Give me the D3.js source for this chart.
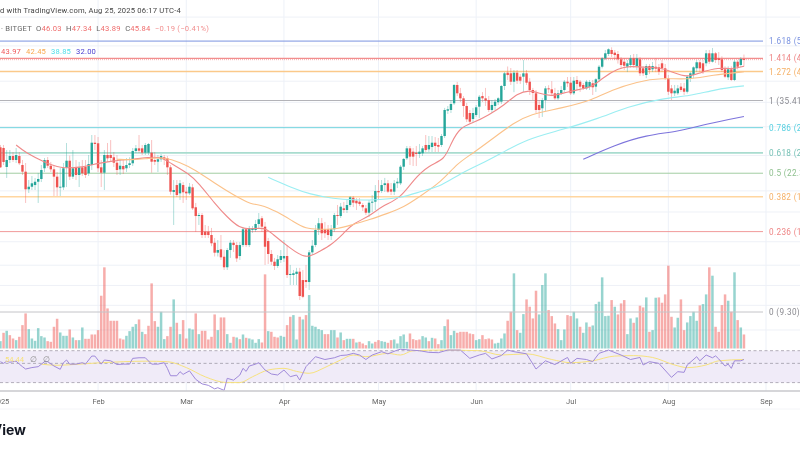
<!DOCTYPE html>
<html>
<head>
<meta charset="utf-8">
<script src="https://cdn.jsdelivr.net/npm/d3@7"></script>
<style>
  html, body { margin: 0; padding: 0; background: #fff; overflow: hidden; }
  svg { display: block; font-family: Roboto, "Noto Sans", sans-serif; filter: blur(0.4px); }
</style>
</head>
<body>
<svg id="chart" width="800" height="450"></svg>
<script>
// daily candles from Jan 1 2025
const firstDay = Date.UTC(2025, 0, 1);

const opens = [
  26.34,26.23,23.26,24.31,24.93,24.31,24.93,23.55,22.58,20.20,
  20.53,20.75,21.19,21.56,23.07,24.31,23.45,22.92,21.88,20.45,
  20.45,23.15,24.20,21.88,23.21,22.11,23.21,23.30,22.35,23.55,
  27.12,27.02,23.21,22.43,25.09,25.09,24.73,23.90,22.92,23.40,
  23.07,23.55,23.81,25.73,26.17,26.17,25.46,25.46,25.46,24.31,
  24.05,24.42,24.73,24.57,23.21,19.86,20.75,19.69,20.75,19.90,
  19.69,20.45,18.03,17.06,17.17,15.45,15.45,15.13,14.41,13.53,
  13.82,13.19,12.34,13.76,14.41,14.20,13.25,14.20,15.69,14.20,
  15.62,15.62,16.22,16.82,15.95,14.57,13.42,12.78,12.44,12.92,
  13.05,13.25,11.75,11.75,11.83,12.00,11.38,11.38,11.24,13.56,
  14.20,15.62,16.30,15.69,15.69,15.03,15.69,17.17,17.06,17.91,
  17.72,18.29,19.15,18.80,18.68,18.29,17.91,17.42,18.56,18.68,
  19.98,19.98,20.75,20.98,20.20,19.90,20.98,20.98,23.30,24.57,
  26.17,25.62,25.46,25.25,25.36,26.73,26.00,26.39,27.12,26.73,
  26.73,28.29,33.20,33.35,34.79,39.06,37.06,35.90,34.20,32.72,
  31.50,32.31,34.05,36.42,35.90,35.52,33.35,34.20,35.02,35.15,
  38.81,42.21,42.05,39.88,42.21,41.16,41.16,42.05,39.88,37.84,
  37.06,34.42,33.71,35.52,38.23,38.00,37.06,35.90,37.06,37.84,
  39.88,39.63,37.06,40.31,39.88,39.06,38.23,38.57,39.48,38.65,
  40.49,43.84,46.23,47.51,48.73,47.91,47.51,45.94,45.25,43.84,
  44.32,46.23,44.03,45.94,43.40,41.60,44.03,43.13,43.84,43.67,
  44.80,43.40,40.74,38.23,37.06,37.06,38.65,38.23,37.43,40.74,
  41.60,43.40,45.09,44.80,44.80,47.72,45.25,47.72,46.23,45.94,
  43.13,41.00,43.13,40.31,45.25,44.32,46.03
];
const closes = [
  23.21,24.01,24.31,24.93,24.31,25.09,23.81,22.58,20.20,20.53,
  20.98,21.19,21.56,22.82,24.31,23.45,22.92,21.88,20.45,20.53,
  23.07,24.20,21.88,23.07,22.11,23.21,22.35,22.11,23.70,27.12,
  26.90,23.07,22.43,25.09,24.57,24.62,23.90,22.82,23.45,22.92,
  23.55,23.81,25.73,26.17,25.78,25.46,26.73,26.90,24.05,24.05,
  24.42,24.93,24.42,23.21,19.90,20.11,19.48,20.98,19.82,19.69,
  20.53,17.91,17.06,17.17,15.13,15.13,15.13,14.36,13.53,13.76,
  13.14,12.34,13.76,14.41,14.20,13.05,14.20,15.69,14.20,15.79,
  15.79,16.22,16.71,15.95,14.05,13.42,12.78,12.44,12.98,13.25,
  13.25,11.75,11.83,11.88,12.00,10.29,10.24,11.24,13.56,14.14,
  15.62,16.30,15.30,15.30,15.13,15.69,17.17,17.06,18.10,17.72,
  18.29,19.20,18.56,18.49,18.41,18.03,17.42,18.56,18.68,19.98,
  19.82,20.75,20.98,19.90,19.90,20.98,21.19,23.30,24.47,26.17,
  24.83,24.83,25.25,25.62,26.17,25.89,26.73,27.12,26.56,26.44,
  28.29,33.35,33.50,34.64,39.06,37.06,35.90,34.20,31.44,30.97,
  32.72,33.92,36.26,35.90,35.37,33.35,34.42,35.15,35.90,38.81,
  42.05,41.60,39.88,42.21,40.13,40.13,42.05,39.63,37.84,37.13,
  33.35,33.35,35.52,38.23,38.00,37.06,35.90,37.06,37.84,39.88,
  39.48,37.06,40.13,39.30,38.65,38.23,39.88,39.80,38.49,40.49,
  43.84,46.23,47.72,48.95,47.51,47.21,45.94,44.32,44.12,44.80,
  46.23,44.32,46.23,42.05,42.05,44.03,42.94,44.03,43.30,42.48,
  43.40,40.74,37.43,37.06,37.67,38.23,37.84,37.43,41.16,42.05,
  43.67,45.09,43.40,42.48,47.72,45.25,47.72,45.74,45.74,42.94,
  41.16,43.13,40.31,45.25,43.84,46.03,45.84
];
const highs = [
  26.73,26.73,25.89,25.89,25.57,26.23,25.57,24.31,23.85,21.42,
  21.97,21.70,22.40,23.55,24.62,24.77,24.01,23.40,22.53,23.11,
  23.85,27.07,25.00,25.89,24.31,24.01,24.31,24.31,25.09,28.47,
  28.47,28.11,24.31,25.89,27.07,27.58,25.57,25.09,24.31,24.31,
  24.62,24.73,26.23,26.73,28.47,26.73,27.07,27.07,27.58,25.57,
  25.09,25.25,25.09,24.93,23.55,21.42,21.42,21.42,21.15,20.49,
  21.02,20.88,18.53,17.39,17.39,16.12,16.02,15.82,14.85,14.66,
  15.13,13.76,13.94,14.66,14.66,14.48,14.48,15.92,15.82,16.02,
  16.02,16.64,17.39,17.06,16.43,14.85,13.76,13.09,13.33,13.76,
  14.66,14.20,12.52,12.13,12.29,12.29,12.13,12.52,13.76,14.66,
  16.12,16.85,16.85,16.43,16.12,16.12,17.39,18.29,18.53,18.65,
  18.88,19.36,19.36,19.12,19.12,18.53,18.29,18.88,19.48,20.75,
  21.42,21.42,21.70,21.42,21.02,21.42,21.70,23.55,24.62,26.56,
  26.56,26.23,26.56,26.90,26.56,28.47,28.29,28.29,28.11,27.94,
  28.65,33.79,34.20,35.52,39.30,39.83,38.34,36.42,34.86,33.35,
  33.79,34.42,36.66,37.34,38.34,36.42,35.52,35.76,36.16,39.06,
  42.38,43.90,43.48,42.94,42.94,41.86,45.74,42.94,40.78,38.34,
  37.84,35.52,35.99,38.79,39.00,40.03,38.34,37.84,38.79,40.31,
  41.08,41.08,41.08,41.34,40.31,39.55,40.31,40.31,40.31,40.78,
  44.32,46.60,48.73,49.24,49.56,48.73,48.42,46.60,46.23,45.74,
  47.21,47.51,47.51,46.60,43.96,44.60,44.60,45.17,46.20,44.60,
  45.74,44.60,41.60,39.06,39.06,39.06,39.55,39.55,41.60,42.38,
  43.96,45.74,45.74,45.74,48.73,48.73,49.35,48.11,48.11,46.82,
  43.96,43.96,43.96,45.74,45.74,46.60,47.34
];
const lows = [
  23.11,23.55,21.70,23.85,24.01,23.85,23.55,22.11,18.53,19.73,
  20.11,20.11,18.53,21.15,22.53,23.11,22.53,19.36,19.36,19.36,
  20.11,20.49,21.42,21.56,21.42,20.49,21.97,21.70,21.97,22.82,
  25.89,22.53,20.49,20.11,24.01,24.01,23.26,22.11,22.11,22.25,
  22.53,23.11,23.40,25.41,25.41,25.09,25.09,25.09,22.43,23.55,
  22.53,24.01,23.55,22.11,19.53,16.12,19.24,18.88,18.53,18.88,
  19.48,17.72,15.43,16.12,14.85,14.85,14.85,14.10,13.21,13.21,
  12.92,12.13,12.13,13.09,13.59,12.76,12.92,14.02,14.02,14.02,
  15.33,15.43,15.82,15.43,12.52,12.60,12.52,12.13,12.29,12.68,
  12.76,11.53,11.03,11.03,11.03,10.03,10.15,10.83,10.69,13.33,
  14.02,15.13,14.66,14.85,14.66,14.66,15.43,16.12,16.85,17.39,
  17.39,18.05,18.05,17.72,18.17,17.61,17.17,16.95,17.50,17.72,
  18.88,19.73,19.86,19.73,19.48,19.48,20.36,20.75,22.82,24.31,
  23.55,23.40,23.40,24.62,24.93,25.57,25.57,25.57,25.57,25.57,
  26.39,27.94,32.52,32.72,34.42,36.42,35.07,31.92,30.90,30.58,
  30.72,31.92,31.71,35.07,34.20,32.93,32.72,33.35,34.42,34.64,
  37.84,40.31,39.06,37.32,39.32,39.32,37.39,39.06,36.66,35.52,
  32.72,31.70,31.92,33.15,37.13,36.42,35.52,35.52,36.66,37.39,
  38.57,36.66,36.66,37.84,37.39,37.84,37.84,37.84,36.66,37.39,
  39.80,43.38,45.74,46.90,46.60,45.74,44.72,43.38,42.94,42.38,
  43.56,43.56,42.94,41.34,41.34,40.78,41.86,42.38,42.38,41.60,
  42.38,40.31,36.66,35.52,36.42,36.66,37.39,36.66,37.00,39.80,
  40.78,42.38,42.38,41.86,43.96,44.60,45.00,44.90,44.32,42.38,
  40.78,40.31,40.03,40.03,43.09,43.75,43.89
];
const volumes = [
  22,47,53,40,30,25,35,70,105,58,30,23,61,37,33,22,20,65,89,48,
  38,38,57,33,25,25,63,29,29,42,42,55,158,243,120,83,83,83,30,27,
  38,52,65,73,87,50,43,68,195,82,65,110,28,37,65,147,77,43,85,30,
  60,57,105,43,53,53,27,35,102,55,93,93,43,17,35,33,28,42,32,30,
  27,17,28,18,222,52,50,35,33,38,35,70,95,100,27,95,87,100,160,68,
  65,58,55,43,43,55,55,33,48,25,29,29,29,18,20,15,10,22,15,20,
  25,22,20,17,25,27,15,37,42,20,45,28,25,27,37,33,22,32,30,13,
  25,67,87,40,53,47,50,50,50,45,43,25,28,40,28,30,27,15,17,30,
  45,83,110,225,55,47,103,147,125,90,173,102,190,225,115,97,75,58,25,57,
  100,97,110,90,65,47,78,65,69,133,140,213,97,98,145,125,102,135,145,43,
  90,77,93,128,123,153,50,55,152,153,137,162,248,95,63,92,147,55,78,97,
  110,83,129,133,162,243,218,65,50,130,162,143,110,228,85,63,42
];
// days whose volume bar is drawn teal in the picture
const tealVolumeDays = [0,2,5,9,10,11,12,13,14,19,20,21,23,25,26,40,41,42,43,45,50,51,52,55,57,60,61,63,69,72,73,75,77,79,80,81,82,85,89,90,93,94,96,98,99,100,101,102,105,106,108,110,111,113,117,118,121,122,125,126,127,128,129,134,135,137,140,141,143,144,151,152,157,158,159,160,163,165,166,171,172,173,177,178,179,182,183,185,186,188,189,190,191,192,193,195,199,200,202,205,207,208,214,215,218,219,220,221,223,224,226,231,233,235];

// moving averages, legend order 20 / 50 / 100 / 200
const ema20Days = [5,8,14,19,25,31,36,42,47,51,54,60,63,68,72,76,79,84,86,92,97,101,105,109,112,117,121,127,131,136,141,143,146,150,155,160,164,168,171,175,180,184,188,191,196,200,204,209,213,218,222,228,232,236];
const ema20Values = [26.73,25.46,23.97,23.07,23.15,23.81,24.20,24.42,24.73,24.83,23.81,22.25,20.98,18.49,16.93,15.79,15.69,15.89,15.30,13.91,12.98,13.62,14.20,15.30,16.30,16.99,18.17,19.08,21.42,23.55,24.31,27.07,29.95,30.72,32.31,34.42,37.06,37.84,37.06,36.26,37.43,38.00,38.65,40.74,43.40,44.03,43.67,43.67,42.48,40.89,42.21,43.67,43.13,43.97];
const ema50Days = [37,42,47,52,57,62,68,74,80,82,88,93,97,101,107,112,117,123,128,133,140,145,150,157,163,168,178,188,194,202,210,218,226,236];
const ema50Values = [24.42,24.31,24.57,24.73,23.97,22.82,20.98,19.48,18.29,18.41,17.53,16.46,15.72,15.69,15.69,16.19,16.64,17.36,18.03,19.28,21.19,23.81,25.36,28.16,30.72,32.45,33.71,35.52,37.84,39.88,40.89,40.31,41.60,42.45];
const ema100Days = [85,93,98,106,112,119,127,134,140,146,154,159,167,178,190,199,210,219,227,236];
const ema100Values = [21.79,20.33,19.61,19.00,18.88,18.88,19.08,20.02,20.62,22.35,24.05,25.36,27.76,29.38,31.63,34.05,35.90,36.42,38.00,38.85];
const ema200Days = [185,195,205,215,224,236];
const ema200Values = [24.42,26.73,28.47,29.07,30.52,32.00];

// rsi pane
const rsiDays = [0,1,2,3,4,5,6,7,8,10,12,14,15,17,19,20,21,22,24,26,27,29,30,32,33,35,37,39,41,42,44,46,48,50,52,53,54,56,57,58,60,62,64,66,68,69,71,72,74,76,77,78,79,81,82,84,86,88,90,92,94,95,97,100,103,106,108,110,112,114,116,118,121,123,126,127,130,133,136,139,142,146,149,152,154,156,159,161,163,167,170,173,176,180,181,183,186,188,190,193,197,200,203,204,206,209,213,215,217,218,221,222,224,226,227,228,230,231,232,233,235,236];
const rsiValues = [52.3,50,53,51.5,52.3,53,49,45.8,43,44.7,45.8,52.3,52.3,46.6,42.7,50.9,54.7,49,49,50.9,49,60.7,60.7,49,54.7,53.5,48.5,49,49,57.1,58,58,49,49,50.9,43.8,36,36,40.1,37.3,41,32.7,29,27.9,25.4,26.2,24.4,33.6,32,36.7,43.8,40.4,46.6,49,50.9,41.9,37.7,36.7,41.9,35.1,36.7,32.1,45.8,59.7,55.4,58,61.6,62.4,65.2,62.4,55.4,62.4,68.2,64.4,71.2,72.7,71.2,70,67,66.4,71.2,71.2,57.1,62.4,65.2,56.2,61.6,71.2,68.2,64.4,43,53.5,48.5,58.5,50,57.1,55.4,52.3,65.2,71.2,62.4,55.4,58.5,47.9,52.3,50,34.5,40.1,39.4,47.9,59.7,53.5,62.4,58,61,56.2,46.6,49,43.8,53.5,53.5,55.4];
const rsiMaDays = [13,18,25,32,39,46,53,59,65,72,76,80,85,90,94,98,103,108,112,116,123,127,131,141,152,159,167,175,181,188,195,201,207,214,218,224,228,236];
const rsiMaValues = [49,47.5,49,50.9,52.3,53,52.3,44.7,35,30,30,35,41.9,43.8,40.4,38.4,44.8,54.7,62.4,59.7,65.2,62.4,70,71.2,70,62.4,64.4,55.4,50.9,53.5,60.7,61.4,58.5,47.9,44.7,47.9,53.5,55.4];
const rsiLevels = [70, 50, 30];

// fibonacci retracement
const fibRatios = ["1.618","1.414","1.272","1","0.786","0.618","0.5","0.382","0.236","0"];
const fibPrices = [51.55,46.23,42.52,35.41,29.82,25.44,22.36,19.27,15.46,9.30];
const fibColors = ["#7b93e0","#f28e8e","#fbc98a","#b3b3b8","#6fd3de","#a9dccf","#a3cda3","#ffd6a0","#ef9090","#c4c4c8"];
const fibTextColors = ["#7b93e0","#ee8585","#f5b066","#8a8a90","#55cfe0","#77c2b6","#8fc08f","#f5b066","#ee8585","#8a8a90"];
const fibWidths = [1, 1.2, 1.4, 1, 1, 1.8, 1, 1.6, 0.9, 1];

const gridPrices = [60,50,40,35,30,25,20,17.5,14.5,12.5,11,9.7,8.3];
const monthTicks = [0,1,2,3,4,5,6,7,8].map(m => new Date(Date.UTC(2025, m, 1)));
const monthLabels = ["2025","Feb","Mar","Apr","May","Jun","Jul","Aug","Sep"];

const headerText = "d with TradingView.com, Aug 25, 2025 06:17 UTC-4";
const ohlcParts = [["· BITGET  O","#666"],["46.03","#ef6c6c"],["  H","#666"],["47.34","#ef6c6c"],["  L","#666"],["43.89","#ef6c6c"],["  C","#666"],["45.84","#ef6c6c"],["  −0.19 (−0.41%)","#f29090"]];
const emaLegend = ["43.97","42.45","38.85","32.00"];
const emaColors = ["#ef8a8a","#fbc28a","#9beef2","#7d74dc"];
const emaLegendColors = ["#f0595c","#f9a94e","#4fdfe8","#4a3fd0"];

const teal = "#26a69a", red = "#ef5350";

const svg = d3.select("#chart");
const dateOf = i => new Date(firstDay + i * 864e5);
const isTealVolume = new Set(tealVolumeDays);

const x = d3.scaleUtc()
  .domain([monthTicks[0], monthTicks[8]])
  .range([0.4, 766]);
const y = d3.scaleLog()
  .domain([9.30, 35.41])
  .range([312, 100.5]);
const yVol = d3.scaleLinear()
  .domain([0, 250])
  .range([348.5, 265]);
const yRsi = d3.scaleLog()
  .domain([24, 70])
  .range([391, 350.7]);

// grid
svg.append("g").selectAll("line").data(gridPrices).join("line")
  .attr("x1", 0).attr("x2", 800)
  .attr("y1", d => y(d)).attr("y2", d => y(d))
  .attr("stroke", "#eef1f7").attr("stroke-width", 1);
svg.append("g").selectAll("line").data(monthTicks.slice(1)).join("line")
  .attr("x1", d => x(d)).attr("x2", d => x(d))
  .attr("y1", 0).attr("y2", 391)
  .attr("stroke", "#edf1f8").attr("stroke-width", 1);

// rsi band
svg.append("rect")
  .attr("x", 0).attr("width", 800)
  .attr("y", yRsi(70)).attr("height", yRsi(30) - yRsi(70))
  .attr("fill", "#f0ebf8");
svg.append("g").selectAll("line").data(rsiLevels).join("line")
  .attr("x1", 0).attr("x2", 800)
  .attr("y1", d => yRsi(d)).attr("y2", d => yRsi(d))
  .attr("stroke", "#9f9aa8").attr("stroke-width", 0.8)
  .attr("stroke-dasharray", "3,2.5");

// volume
svg.append("g").selectAll("rect").data(volumes).join("rect")
  .attr("x", (d, i) => x(dateOf(i)) - 1.25)
  .attr("width", 2.5)
  .attr("y", d => yVol(d))
  .attr("height", d => yVol(0) - yVol(d))
  .attr("fill", (d, i) => isTealVolume.has(i) ? teal : red)
  .attr("opacity", 0.48);

// fib levels
const fib = svg.append("g");
fib.selectAll("line").data(fibPrices).join("line")
  .attr("x1", 0).attr("x2", 763)
  .attr("y1", d => y(d)).attr("y2", d => y(d))
  .attr("stroke", (d, i) => fibColors[i])
  .attr("stroke-width", (d, i) => fibWidths[i]);
fib.selectAll("text").data(fibPrices).join("text")
  .attr("x", 769).attr("y", d => y(d) + 3)
  .attr("font-size", 8.2)
  .attr("letter-spacing", 0.35)
  .attr("fill", (d, i) => fibTextColors[i])
  .text((d, i) => `${fibRatios[i]} (${d.toFixed(2)})`);

// last price line
svg.append("line")
  .attr("x1", 0).attr("x2", 763)
  .attr("y1", y(closes[closes.length - 1])).attr("y2", y(closes[closes.length - 1]))
  .attr("stroke", "#f28e8e").attr("stroke-width", 0.7)
  .attr("stroke-dasharray", "1,1");

// candles
const wicks = svg.append("g");
wicks.selectAll("line").data(opens).join("line")
  .attr("x1", (d, i) => x(dateOf(i))).attr("x2", (d, i) => x(dateOf(i)))
  .attr("y1", (d, i) => y(highs[i])).attr("y2", (d, i) => y(lows[i]))
  .attr("stroke", (d, i) => closes[i] >= d ? teal : red)
  .attr("stroke-width", 0.8)
  .attr("opacity", 0.45);
const bodies = svg.append("g");
bodies.selectAll("rect").data(opens).join("rect")
  .attr("x", (d, i) => x(dateOf(i)) - 1.2)
  .attr("width", 2.4)
  .attr("y", (d, i) => y(Math.max(d, closes[i])))
  .attr("height", (d, i) => Math.max(0.9, Math.abs(y(d) - y(closes[i]))))
  .attr("fill", (d, i) => closes[i] >= d ? teal : red);

// moving averages
const priceLine = d3.line()
  .x(d => x(dateOf(d[0])))
  .y(d => y(d[1]))
  .curve(d3.curveBasis);
[[ema20Days, ema20Values], [ema50Days, ema50Values], [ema100Days, ema100Values], [ema200Days, ema200Values]]
  .forEach((s, k) => {
    svg.append("path")
      .attr("d", priceLine(d3.zip(s[0], s[1])))
      .attr("fill", "none")
      .attr("stroke", emaColors[k])
      .attr("stroke-width", 1.1);
  });

// rsi lines
const rsiLine = d3.line()
  .x(d => x(dateOf(d[0])))
  .y(d => yRsi(d[1]));
svg.append("path")
  .attr("d", rsiLine.curve(d3.curveMonotoneX)(d3.zip(rsiMaDays, rsiMaValues)))
  .attr("fill", "none").attr("stroke", "#f7e27e").attr("stroke-width", 1);
svg.append("path")
  .attr("d", rsiLine.curve(d3.curveLinear)(d3.zip(rsiDays, rsiValues)))
  .attr("fill", "none").attr("stroke", "#a08ada").attr("stroke-width", 1);

// pane bottom edge
svg.append("line")
  .attr("x1", 0).attr("x2", 800).attr("y1", 391).attr("y2", 391)
  .attr("stroke", "#c9c9cc").attr("stroke-width", 1.4);
svg.append("line")
  .attr("x1", 0).attr("x2", 800).attr("y1", 409).attr("y2", 409)
  .attr("stroke", "#f4f5f8").attr("stroke-width", 1);

// month axis
const axis = d3.axisBottom(x)
  .tickValues(monthTicks)
  .tickFormat((d, i) => monthLabels[i])
  .tickSize(0);
const axisG = svg.append("g")
  .attr("transform", "translate(0,395.5)")
  .call(axis);
axisG.select(".domain").remove();
axisG.selectAll("text")
  .attr("font-family", "Roboto, sans-serif")
  .attr("font-size", 7.5)
  .attr("fill", "#666");

// header texts
svg.append("text")
  .attr("x", 0).attr("y", 13)
  .attr("font-size", 7.6).attr("letter-spacing", 0.2)
  .attr("fill", "#444")
  .text(headerText);
const ohlc = svg.append("text")
  .attr("x", 1).attr("y", 31)
  .attr("font-size", 7.6).attr("letter-spacing", 0.24);
ohlc.selectAll("tspan").data(ohlcParts).join("tspan")
  .attr("fill", d => d[1])
  .style("white-space", "pre")
  .text(d => d[0]);
svg.selectAll(".ema-legend").data(emaLegend).join("text")
  .attr("class", "ema-legend")
  .attr("x", (d, i) => 1 + i * 25)
  .attr("y", 54)
  .attr("font-size", 7.6).attr("letter-spacing", 0.2)
  .attr("fill", (d, i) => emaLegendColors[i])
  .text(d => d);

// rsi legend
svg.append("text")
  .attr("x", 5).attr("y", 362)
  .attr("font-size", 7.6)
  .attr("fill", "#f7e27e")
  .text("54.44");
svg.append("text")
  .attr("x", 30).attr("y", 362)
  .attr("font-size", 8)
  .attr("fill", "#888")
  .text("∅");
svg.append("text")
  .attr("x", 43).attr("y", 362)
  .attr("font-size", 8)
  .attr("fill", "#888")
  .text("∅");

// brand
svg.append("text")
  .attr("x", 26).attr("y", 435)
  .attr("text-anchor", "end")
  .attr("font-family", "Inter, Roboto, sans-serif")
  .attr("font-size", 14).attr("font-weight", 700)
  .attr("fill", "#131722")
  .text("TradingView");
</script>
</body>
</html>
